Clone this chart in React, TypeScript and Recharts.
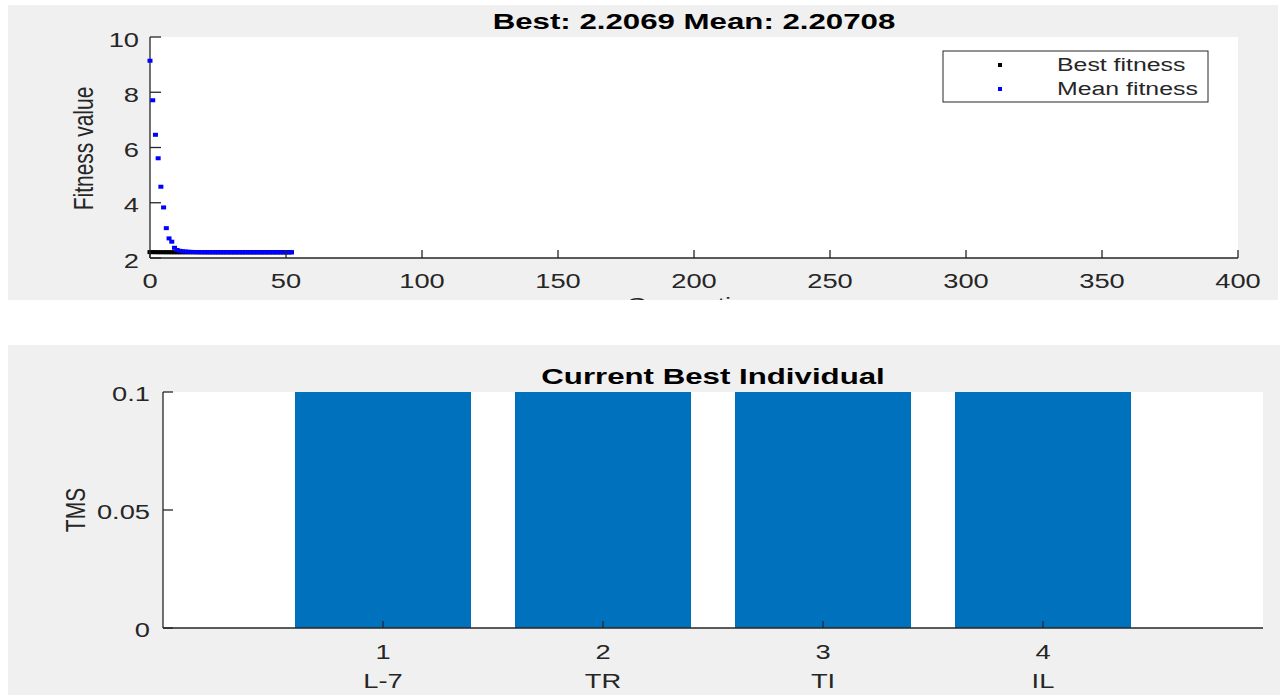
import React from "react"
import {
  ScatterChart,
  Scatter,
  BarChart,
  Bar,
  XAxis,
  YAxis,
  CartesianGrid,
  Customized,
} from "recharts"

// Top plot: fitness per generation
const generations = [
  0, 1, 2, 3, 4, 5, 6, 7, 8, 9, 10, 11, 12, 13, 14, 15, 16, 17, 18, 19, 20, 21, 22, 23, 24, 25, 26,
  27, 28, 29, 30, 31, 32, 33, 34, 35, 36, 37, 38, 39, 40, 41, 42, 43, 44, 45, 46, 47, 48, 49, 50,
  51, 52,
]
const bestFitness = [
  2.2135, 2.2121, 2.211, 2.2101, 2.2094, 2.2089, 2.2085, 2.2082, 2.2079, 2.2077, 2.2075, 2.2074,
  2.2073, 2.2072, 2.2071, 2.207, 2.207, 2.2069, 2.2069, 2.2069, 2.2069, 2.2069, 2.2069, 2.2069,
  2.2069, 2.2069, 2.2069, 2.2069, 2.2069, 2.2069, 2.2069, 2.2069, 2.2069, 2.2069, 2.2069, 2.2069,
  2.2069, 2.2069, 2.2069, 2.2069, 2.2069, 2.2069, 2.2069, 2.2069, 2.2069, 2.2069, 2.2069, 2.2069,
  2.2069, 2.2069, 2.2069, 2.2069, 2.2069,
]
const meanFitness = [
  9.14, 7.71, 6.46, 5.61, 4.58, 3.83, 3.08, 2.71, 2.59, 2.37, 2.29, 2.26, 2.245, 2.235, 2.228,
  2.222, 2.218, 2.215, 2.213, 2.212, 2.211, 2.21, 2.2095, 2.209, 2.2088, 2.2086, 2.2084, 2.2082,
  2.208, 2.2079, 2.2078, 2.2077, 2.2076, 2.2075, 2.2075, 2.2074, 2.2074, 2.2073, 2.2073, 2.2073,
  2.2072, 2.2072, 2.2072, 2.2072, 2.2071, 2.2071, 2.2071, 2.2071, 2.2071, 2.2071, 2.20709,
  2.20708, 2.20708,
]
const genTicks = [0, 50, 100, 150, 200, 250, 300, 350, 400]
const fitnessTicks = [2, 4, 6, 8, 10]

// Bottom plot: current best individual
const variableIndex = [1, 2, 3, 4]
const variableNames = ["L-7", "TR", "TI", "IL"]
const tmsValues = [0.1, 0.1, 0.1, 0.1]
const tmsTicks = [0, 0.05, 0.1]

const FONT = "'Liberation Sans', Arial, Helvetica, sans-serif"
const AXIS_COLOR = "#262626"
const TEXT_COLOR = "#262626"
const PANEL_BG = "#f0f0f0"
const BAR_COLOR = "#0072bd"

// the reference is stretched horizontally, so text gets a scaleX
const SText = ({ x, y, children, anchor = "middle", size = 21, bold = false, sx = 1.3, rotate = 0, fill = TEXT_COLOR }: any) => (
  <text
    transform={`translate(${x} ${y}) scale(${sx} 1)${rotate ? ` rotate(${rotate})` : ""}`}
    textAnchor={anchor}
    fontSize={size}
    fontWeight={bold ? 700 : 400}
    fontFamily={FONT}
    fill={fill}
  >
    {children}
  </text>
)

const GenTick = ({ x, y, payload }: any) => (
  <g>
    <line x1={x} y1={y} x2={x} y2={y - 8} stroke={AXIS_COLOR} strokeWidth={1.3} />
    <SText x={x} y={y + 30}>{payload.value}</SText>
  </g>
)

const FitnessTick = ({ x, y, payload }: any) => (
  <g>
    <line x1={x} y1={y} x2={x + 11} y2={y} stroke={AXIS_COLOR} strokeWidth={1.3} />
    <SText x={x - 11} y={y + 9.5} anchor="end">{payload.value}</SText>
  </g>
)

const VarTick = ({ x, y, payload }: any) => (
  <g>
    <line x1={x} y1={y} x2={x} y2={y - 7} stroke={AXIS_COLOR} strokeWidth={1.3} />
    <SText x={x} y={y + 31}>{payload.value}</SText>
    <SText x={x} y={y + 60}>{variableNames[payload.value - 1]}</SText>
  </g>
)

const TmsTick = ({ x, y, payload }: any) => (
  <g>
    <line x1={x} y1={y} x2={x + 10} y2={y} stroke={AXIS_COLOR} strokeWidth={1.3} />
    <SText x={x - 13} y={y + 9} anchor="end">{payload.value}</SText>
  </g>
)

const dot = (color: string) => (props: any) => (
  <rect x={props.cx - 2.5} y={props.cy - 2} width={5} height={4} fill={color} />
)

const TopDecor = () => (
  <g>
    <SText x={686} y={24} size={22} bold sx={1.42} fill="#000">
      Best: 2.2069 Mean: 2.20708
    </SText>
    <SText x={85} y={143.5} rotate={-90}>Fitness value</SText>
    {/* x label sits under the panel edge, as in the figure */}
    <SText x={686} y={307}>Generation</SText>
    <rect x={935} y={46} width={265} height={51} fill="#fff" stroke={AXIS_COLOR} strokeWidth={1} />
    <rect x={990} y={58} width={4} height={4} fill="#000" />
    <rect x={990} y={82} width={4} height={4} fill="#0000ff" />
    <SText x={1049} y={66} anchor="start" size={18} sx={1.38}>Best fitness</SText>
    <SText x={1049} y={90} anchor="start" size={18} sx={1.38}>Mean fitness</SText>
  </g>
)

const BottomDecor = () => (
  <g>
    <SText x={705} y={39} size={22} bold sx={1.42} fill="#000">
      Current Best Individual
    </SText>
    <SText x={77} y={165} rotate={-90}>TMS</SText>
  </g>
)

export default function App() {
  const bestData = generations.map((g, i) => ({ gen: g, value: bestFitness[i] }))
  const meanData = generations.map((g, i) => ({ gen: g, value: meanFitness[i] }))
  const tmsData = variableIndex.map((v, i) => ({ idx: v, tms: tmsValues[i] }))

  return (
    <div style={{ position: "relative", width: 1284, height: 698, background: "#fff", fontFamily: FONT }}>
      <style>{`body{margin:0;background:#fff}`}</style>

      {/* GA progress */}
      <div style={{ position: "absolute", left: 8, top: 5, width: 1270, height: 295, background: PANEL_BG, overflow: "hidden" }}>
        <ScatterChart width={1270} height={295} margin={{ top: 32, right: 40, left: 42, bottom: 2 }}>
          <CartesianGrid horizontal={false} vertical={false} fill="#ffffff" />
          <XAxis
            type="number"
            dataKey="gen"
            domain={[0, 400]}
            ticks={genTicks}
            interval={0}
            height={40}
            tickSize={0}
            tickMargin={0}
            tickLine={false}
            axisLine={{ stroke: AXIS_COLOR, strokeWidth: 1.3 }}
            tick={<GenTick />}
          />
          <YAxis
            type="number"
            dataKey="value"
            domain={[2, 10]}
            ticks={fitnessTicks}
            interval={0}
            width={100}
            tickSize={0}
            tickMargin={0}
            tickLine={false}
            allowDataOverflow
            axisLine={{ stroke: AXIS_COLOR, strokeWidth: 1.3 }}
            tick={<FitnessTick />}
          />
          <Scatter name="Best fitness" data={bestData} fill="#000" shape={dot("#000000")} isAnimationActive={false} />
          <Scatter name="Mean fitness" data={meanData} fill="#0000ff" shape={dot("#0000ff")} isAnimationActive={false} />
          <Customized component={TopDecor} />
        </ScatterChart>
      </div>

      {/* current best individual */}
      <div style={{ position: "absolute", left: 8, top: 345, width: 1272, height: 350, background: PANEL_BG, overflow: "hidden" }}>
        <BarChart width={1272} height={350} data={tmsData} margin={{ top: 47, right: 17, left: 55, bottom: 7 }}>
          <CartesianGrid horizontal={false} vertical={false} fill="#ffffff" />
          <XAxis
            type="number"
            dataKey="idx"
            domain={[0, 5]}
            ticks={variableIndex}
            interval={0}
            height={60}
            tickSize={0}
            tickMargin={0}
            tickLine={false}
            axisLine={{ stroke: AXIS_COLOR, strokeWidth: 1.3 }}
            tick={<VarTick />}
          />
          <YAxis
            type="number"
            domain={[0, 0.1]}
            ticks={tmsTicks}
            interval={0}
            width={100}
            tickSize={0}
            tickMargin={0}
            tickLine={false}
            axisLine={{ stroke: AXIS_COLOR, strokeWidth: 1.3 }}
            tick={<TmsTick />}
          />
          <Bar dataKey="tms" fill={BAR_COLOR} barSize={176} isAnimationActive={false} />
          <Customized component={BottomDecor} />
        </BarChart>
      </div>
    </div>
  )
}
